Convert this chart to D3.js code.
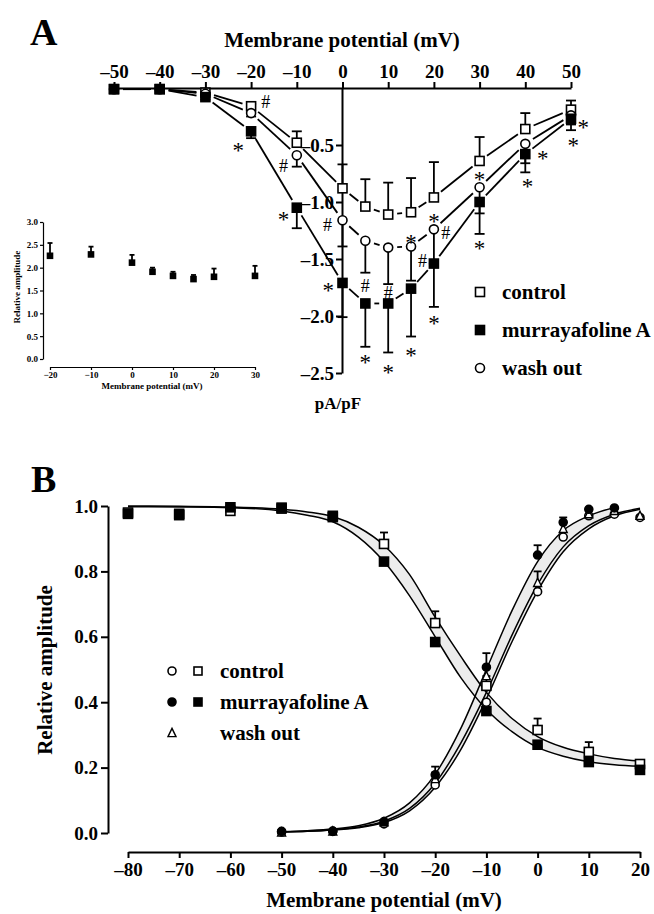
<!DOCTYPE html>
<html>
<head>
<meta charset="utf-8">
<script src="https://cdn.jsdelivr.net/npm/d3@7"></script>
<style>
body { margin: 0; background: #fff; }
text { font-family: "Liberation Serif", "Times New Roman", serif; fill: #000; }
</style>
</head>
<body>
<div id="chart"></div>
<script>
// ---- panel A: I-V relation (pA/pF) ----
const voltsA = [-50, -40, -30, -20, -10, 0, 5, 10, 15, 20, 30, 40, 50];
const controlA = [-0.01, -0.01, -0.04, -0.16, -0.48, -0.88, -1.04, -1.11, -1.09, -0.96, -0.64, -0.36, -0.19];
const controlErrA = [0, 0, 0, 0.02, 0.1, 0.21, 0.24, 0.28, 0.3, 0.31, 0.21, 0.14, 0.08];
const murrayA = [-0.01, -0.01, -0.08, -0.38, -1.05, -1.71, -1.89, -1.89, -1.76, -1.54, -1.0, -0.58, -0.27];
const murrayErrA = [0, 0, 0.02, 0.06, 0.18, 0.3, 0.38, 0.43, 0.42, 0.38, 0.28, 0.16, 0.1];
const washA = [-0.01, -0.01, -0.05, -0.22, -0.59, -1.16, -1.34, -1.4, -1.39, -1.24, -0.87, -0.49, -0.24];
const washErrA = [0, 0, 0, 0.03, 0.1, 0.23, 0.28, 0.32, 0.3, 0.3, 0.23, 0.17, 0.08];
const xTicksA = [-50, -40, -30, -20, -10, 0, 10, 20, 30, 40, 50];
const yTicksA = [-0.5, -1.0, -1.5, -2.0, -2.5];
// significance marks [mV, pA/pF, symbol]
const marksA = [
  [-16.8, -0.12, "#"], [-22.8, -0.5, "*"], [-12.9, -0.68, "#"], [-12.9, -1.11, "*"],
  [-3.3, -1.2, "#"], [-3.1, -1.73, "*"], [5, -1.73, "#"], [5, -2.36, "*"],
  [10, -1.79, "#"], [10, -2.45, "*"], [15, -1.31, "*"], [17.5, -1.51, "#"],
  [15, -2.3, "*"], [20, -1.13, "*"], [22.6, -1.27, "#"], [20, -2.02, "*"],
  [30, -0.76, "*"], [30, -1.36, "*"], [43.8, -0.57, "*"], [40.5, -0.82, "*"],
  [52.7, -0.3, "*"], [50.5, -0.46, "*"]
];

// ---- inset: relative amplitude ----
const voltsIn = [-20, -10, 0, 5, 10, 15, 20, 30];
const ampIn = [2.26, 2.29, 2.11, 1.91, 1.82, 1.75, 1.8, 1.82];
const ampErrIn = [0.28, 0.17, 0.17, 0.09, 0.09, 0.09, 0.18, 0.22];
const xTicksIn = [-20, -10, 0, 10, 20, 30];
const yTicksIn = [0, 0.5, 1.0, 1.5, 2.0, 2.5, 3.0];

// ---- panel B: activation / inactivation ----
const voltsInact = [-80, -70, -60, -50, -40, -30, -20, -10, 0, 10, 20];
const ctrlInact = [0.98, 0.976, 0.985, 0.992, 0.97, 0.884, 0.642, 0.45, 0.315, 0.248, 0.211];
const ctrlInactErr = [0, 0, 0, 0, 0, 0.035, 0.036, 0.03, 0.035, 0.03, 0.01];
const murInact = [0.976, 0.972, 0.996, 0.995, 0.966, 0.83, 0.584, 0.373, 0.27, 0.217, 0.193];
const voltsAct = [-50, -40, -30, -20, -10, 0, 5, 10, 15, 20];
const ctrlAct = [0.003, 0.005, 0.028, 0.147, 0.4, 0.738, 0.905, 0.97, 0.975, 0.965];
const murAct = [0.005, 0.006, 0.035, 0.178, 0.507, 0.85, 0.95, 0.99, 0.994, null];
const murActErr = [0, 0, 0, 0.025, 0.043, 0.03, 0.015, 0, 0, 0];
const washAct = [0.002, 0.005, 0.033, 0.165, 0.48, 0.765, 0.93, 0.975, 0.985, 0.97];
const washActErr = [0, 0, 0, 0.02, 0.03, 0.035, 0, 0, 0, 0];
// fitted curves
const fitVInact = [-80, -70, -60, -50, -45, -40, -35, -30, -25, -20, -15, -10, -5, 0, 5, 10, 15, 20];
const fitCtrlInact = [1.0, 0.999, 0.997, 0.99, 0.982, 0.968, 0.935, 0.88, 0.79, 0.66, 0.54, 0.43, 0.35, 0.295, 0.262, 0.242, 0.228, 0.22];
const fitMurInact = [0.998, 0.997, 0.995, 0.985, 0.972, 0.952, 0.905, 0.83, 0.725, 0.6, 0.475, 0.378, 0.31, 0.262, 0.235, 0.218, 0.209, 0.204];
const fitVAct = [-50, -45, -40, -35, -30, -25, -20, -15, -10, -5, 0, 5, 10, 15, 20];
const fitMurAct = [0.004, 0.007, 0.012, 0.022, 0.045, 0.092, 0.18, 0.32, 0.5, 0.68, 0.83, 0.925, 0.97, 0.995, null];
const fitCtrlAct = [0.003, 0.005, 0.009, 0.016, 0.032, 0.068, 0.14, 0.255, 0.41, 0.585, 0.74, 0.86, 0.93, 0.97, 0.99];
const fitWashAct = [0.003, 0.005, 0.01, 0.018, 0.036, 0.075, 0.152, 0.275, 0.43, 0.605, 0.76, 0.875, 0.94, 0.975, 0.993];
const xTicksB = [-80, -70, -60, -50, -40, -30, -20, -10, 0, 10, 20];
const yTicksB = [0, 0.2, 0.4, 0.6, 0.8, 1.0];

const svg = d3.select("#chart").append("svg")
    .attr("width", 654)
    .attr("height", 914);

// negative numbers with a long dash, as in the figure
const dash = f => d => (d < 0 ? "\u2013" : "") + f(Math.abs(d));
const fmtInt = dash(d3.format("d"));
const fmt1 = dash(d3.format(".1f"));

function styleAxis(g, size) {
    g.attr("font-family", null).attr("font-size", null);
    g.select(".domain").attr("stroke-width", 2);
    g.selectAll(".tick line").attr("stroke-width", 2);
    g.selectAll("text").style("font-size", size + "px").style("font-weight", "bold");
}

function marker(g, type, cx, cy, s) {
    if (type === "sqOpen" || type === "sqFill") {
        g.append("rect").attr("x", cx - s / 2).attr("y", cy - s / 2).attr("width", s).attr("height", s)
            .attr("fill", type === "sqFill" ? "black" : "white").attr("stroke", "black").attr("stroke-width", 1.6);
    } else if (type === "ciOpen" || type === "ciFill") {
        g.append("circle").attr("cx", cx).attr("cy", cy).attr("r", s / 2)
            .attr("fill", type === "ciFill" ? "black" : "white").attr("stroke", "black").attr("stroke-width", 1.6);
    } else if (type === "triOpen") {
        const h = s * 0.9;
        g.append("path").attr("d", `M${cx},${cy - h / 2 - 1}L${cx + s / 2},${cy + h / 2}L${cx - s / 2},${cy + h / 2}Z`)
            .attr("fill", "white").attr("stroke", "black").attr("stroke-width", 1.4);
    }
}

// ===== panel A =====
const xA = d3.scaleLinear().domain([-50, 50]).range([114, 571]);
const yA = d3.scaleLinear().domain([0, -2.5]).range([88, 373]);

svg.append("text").attr("x", 30).attr("y", 45).style("font-size", "38px").style("font-weight", "bold").text("A");
svg.append("text").attr("x", 342).attr("y", 47).attr("text-anchor", "middle")
    .style("font-size", "21px").style("font-weight", "bold").text("Membrane potential (mV)");

svg.append("g").attr("transform", "translate(0,88)")
    .call(d3.axisTop(xA).tickValues(xTicksA).tickSize(6).tickSizeOuter(0).tickPadding(4).tickFormat(fmtInt))
    .call(g => styleAxis(g, 19));
svg.append("g").attr("transform", "translate(342,0)")
    .call(d3.axisLeft(yA).tickValues(yTicksA).tickSize(6).tickSizeOuter(0).tickPadding(2).tickFormat(fmt1))
    .call(g => styleAxis(g, 19));
svg.append("text").attr("x", 338).attr("y", 409).attr("text-anchor", "middle")
    .style("font-size", "17px").style("font-weight", "bold").text("pA/pF");

function gapLines(g, V, vals, x, y, gap) {
    const pts = V.map((v, i) => [x(v), y(vals[i])]);
    d3.pairs(pts).forEach(([p, q]) => {
        const dx = q[0] - p[0], dy = q[1] - p[1], len = Math.hypot(dx, dy);
        if (len <= 2 * gap) return;
        const ux = dx / len, uy = dy / len;
        g.append("line")
            .attr("x1", p[0] + ux * gap).attr("y1", p[1] + uy * gap)
            .attr("x2", q[0] - ux * gap).attr("y2", q[1] - uy * gap)
            .attr("stroke", "black").attr("stroke-width", 1.8);
    });
}

function errBars(g, V, vals, errs, dir, x, y, cap) {
    V.forEach((v, i) => {
        if (vals[i] == null || !errs[i]) return;
        const y0 = y(vals[i]), y1 = y(vals[i] + dir * errs[i]);
        g.append("line").attr("x1", x(v)).attr("x2", x(v)).attr("y1", y0).attr("y2", y1)
            .attr("stroke", "black").attr("stroke-width", 1.8);
        g.append("line").attr("x1", x(v) - cap / 2).attr("x2", x(v) + cap / 2).attr("y1", y1).attr("y2", y1)
            .attr("stroke", "black").attr("stroke-width", 1.8);
    });
}

const gA = svg.append("g");
gapLines(gA, voltsA, controlA, xA, yA, 9);
gapLines(gA, voltsA, washA, xA, yA, 9);
gapLines(gA, voltsA, murrayA, xA, yA, 9);
errBars(gA, voltsA, controlA, controlErrA, 1, xA, yA, 10);
errBars(gA, voltsA, washA, washErrA, -1, xA, yA, 10);
errBars(gA, voltsA, murrayA, murrayErrA, -1, xA, yA, 10);
voltsA.forEach((v, i) => marker(gA, "sqOpen", xA(v), yA(controlA[i]), 9));
voltsA.forEach((v, i) => marker(gA, "ciOpen", xA(v), yA(washA[i]), 9));
voltsA.forEach((v, i) => marker(gA, "sqFill", xA(v), yA(murrayA[i]), 9));

gA.selectAll(".sig").data(marksA).join("text")
    .attr("class", "sig")
    .attr("x", d => xA(d[0]))
    .attr("y", d => yA(d[1]))
    .attr("dy", d => d[2] === "*" ? "0.55em" : "0.36em")
    .attr("text-anchor", "middle")
    .style("font-size", d => d[2] === "*" ? "23px" : "18px")
    .text(d => d[2]);

// legend A
const legA = [["sqOpen", "control"], ["sqFill", "murrayafoline A"], ["ciOpen", "wash out"]];
legA.forEach(([t, label], i) => {
    const ly = 292 + i * 38;
    marker(svg, t, 480, ly, 9);
    svg.append("text").attr("x", 502).attr("y", ly + 7).style("font-size", "21px").style("font-weight", "bold").text(label);
});

// ===== inset =====
const xI = d3.scaleLinear().domain([-20, 30]).range([50, 255]);
const yI = d3.scaleLinear().domain([0, 3]).range([359, 222]);
svg.append("g").attr("transform", "translate(0,367)")
    .call(d3.axisBottom(xI).tickValues(xTicksIn).tickSize(3).tickSizeOuter(0).tickPadding(2))
    .call(g => { styleAxis(g, 9); g.select(".domain").attr("stroke-width", 1.2); g.selectAll(".tick line").attr("stroke-width", 1.2); });
svg.append("g").attr("transform", "translate(43,0)")
    .call(d3.axisLeft(yI).tickValues(yTicksIn).tickSize(3).tickSizeOuter(0).tickPadding(2).tickFormat(d3.format(".1f")))
    .call(g => { styleAxis(g, 9); g.select(".domain").attr("stroke-width", 1.2); g.selectAll(".tick line").attr("stroke-width", 1.2); });
svg.append("text").attr("transform", "translate(20,287) rotate(-90)").attr("text-anchor", "middle")
    .style("font-size", "9px").style("font-weight", "bold").text("Relative amplitude");
svg.append("text").attr("x", 152).attr("y", 389).attr("text-anchor", "middle")
    .style("font-size", "9px").style("font-weight", "bold").text("Membrane potential (mV)");
const gI = svg.append("g");
errBars(gI, voltsIn, ampIn, ampErrIn, 1, xI, yI, 5);
voltsIn.forEach((v, i) => marker(gI, "sqFill", xI(v), yI(ampIn[i]), 5));

// ===== panel B =====
const xB = d3.scaleLinear().domain([-80, 20]).range([128, 640]);
const yB = d3.scaleLinear().domain([0, 1]).range([833, 506]);

svg.append("text").attr("x", 31).attr("y", 492).style("font-size", "38px").style("font-weight", "bold").text("B");

svg.append("g").attr("transform", "translate(0,852)")
    .call(d3.axisBottom(xB).tickValues(xTicksB).tickSize(6).tickSizeOuter(0).tickPadding(5).tickFormat(fmtInt))
    .call(g => styleAxis(g, 19));
svg.append("g").attr("transform", "translate(108,0)")
    .call(d3.axisLeft(yB).tickValues(yTicksB).tickSize(7).tickSizeOuter(0).tickPadding(3).tickFormat(d3.format(".1f")))
    .call(g => styleAxis(g, 19));
svg.append("text").attr("x", 384).attr("y", 907).attr("text-anchor", "middle")
    .style("font-size", "21px").style("font-weight", "bold").text("Membrane potential (mV)");
svg.append("text").attr("transform", "translate(52,670) rotate(-90)").attr("text-anchor", "middle")
    .style("font-size", "21px").style("font-weight", "bold").text("Relative amplitude");

const gB = svg.append("g");
// shaded bands between fitted curves
const bandInact = fitVInact.map((v, i) => [v, fitCtrlInact[i], fitMurInact[i]]);
const bandAct = fitVAct.map((v, i) => [v, fitMurAct[i], fitCtrlAct[i]]).filter(d => d[1] != null);
const band = d3.area().x(d => xB(d[0])).y0(d => yB(d[1])).y1(d => yB(d[2])).curve(d3.curveMonotoneX);
gB.append("path").datum(bandInact).attr("d", band).attr("fill", "#ececec");
gB.append("path").datum(bandAct).attr("d", band).attr("fill", "#ececec");

const fitLine = d3.line().defined(d => d[1] != null).x(d => xB(d[0])).y(d => yB(d[1])).curve(d3.curveMonotoneX);
[[fitVInact, fitCtrlInact], [fitVInact, fitMurInact], [fitVAct, fitMurAct], [fitVAct, fitCtrlAct], [fitVAct, fitWashAct]]
    .forEach(([V, vals]) => {
        gB.append("path").datum(V.map((v, i) => [v, vals[i]])).attr("d", fitLine)
            .attr("fill", "none").attr("stroke", "black").attr("stroke-width", 1.5);
    });

errBars(gB, voltsInact, ctrlInact, ctrlInactErr, 1, xB, yB, 8);
errBars(gB, voltsAct, murAct, murActErr, 1, xB, yB, 8);
errBars(gB, voltsAct, washAct, washActErr, 1, xB, yB, 8);
voltsInact.forEach((v, i) => marker(gB, "sqOpen", xB(v), yB(ctrlInact[i]), 9));
voltsInact.forEach((v, i) => marker(gB, "sqFill", xB(v), yB(murInact[i]), 9));
voltsAct.forEach((v, i) => marker(gB, "ciOpen", xB(v), yB(ctrlAct[i]), 8));
voltsAct.forEach((v, i) => marker(gB, "triOpen", xB(v), yB(washAct[i]), 8));
voltsAct.forEach((v, i) => { if (murAct[i] != null) marker(gB, "ciFill", xB(v), yB(murAct[i]), 8); });

// legend B
const legB = [[["ciOpen", "sqOpen"], "control"], [["ciFill", "sqFill"], "murrayafoline A"], [["triOpen"], "wash out"]];
legB.forEach(([types, label], i) => {
    const ly = 671 + i * 31;
    types.forEach((t, j) => marker(svg, t, 172 + j * 26, ly, 8));
    svg.append("text").attr("x", 220).attr("y", ly + 7).style("font-size", "21px").style("font-weight", "bold").text(label);
});
</script>
</body>
</html>
